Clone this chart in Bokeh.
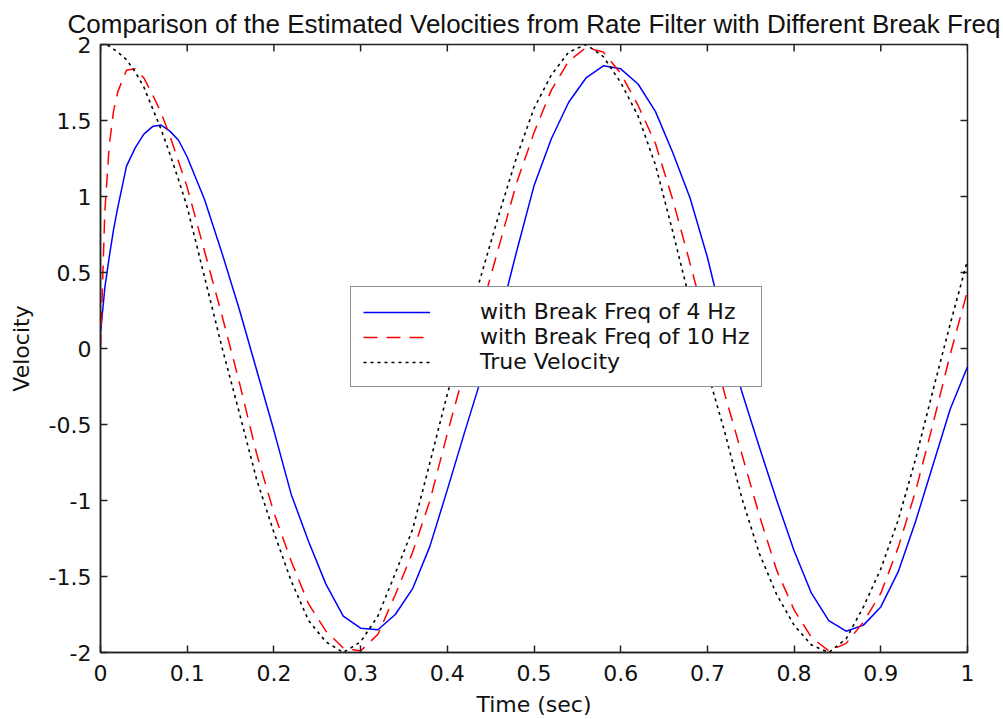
import math
from bokeh.plotting import figure
from bokeh.models import FixedTicker, Legend, LegendItem, Range1d
from bokeh.embed import file_html
from bokeh.resources import INLINE

# ---- data ----
time_s = [0.0, 0.005, 0.01, 0.015, 0.02, 0.03, 0.04, 0.05, 0.06, 0.07, 0.08, 0.09,
          0.10, 0.12, 0.14, 0.16, 0.18, 0.20, 0.22, 0.24, 0.26, 0.28, 0.30, 0.32,
          0.34, 0.36, 0.38, 0.40, 0.42, 0.44, 0.46, 0.48, 0.50, 0.52, 0.54, 0.56,
          0.58, 0.60, 0.62, 0.64, 0.66, 0.68, 0.70, 0.72, 0.74, 0.76, 0.78, 0.80,
          0.82, 0.84, 0.86, 0.88, 0.90, 0.92, 0.94, 0.96, 0.98, 1.00]

vel_4hz = [0.10, 0.40, 0.60, 0.78, 0.93, 1.20, 1.32, 1.41, 1.46, 1.47, 1.43, 1.37,
           1.26, 0.98, 0.63, 0.26, -0.14, -0.54, -0.96, -1.27, -1.55, -1.76, -1.84, -1.85,
           -1.75, -1.58, -1.30, -0.93, -0.55, -0.18, 0.19, 0.64, 1.07, 1.38, 1.62, 1.78,
           1.86, 1.84, 1.74, 1.56, 1.29, 0.99, 0.60, 0.13, -0.29, -0.65, -1.00, -1.33,
           -1.61, -1.79, -1.86, -1.82, -1.70, -1.47, -1.14, -0.77, -0.40, -0.12]

vel_10hz = [0.0, 0.90, 1.33, 1.56, 1.69, 1.83, 1.84, 1.78, 1.67, 1.55, 1.40, 1.23,
            1.06, 0.64, 0.22, -0.22, -0.69, -1.08, -1.40, -1.68, -1.86, -1.97, -1.99, -1.88,
            -1.62, -1.34, -1.00, -0.56, -0.14, 0.27, 0.68, 1.09, 1.42, 1.70, 1.89, 1.98,
            1.95, 1.81, 1.60, 1.35, 0.98, 0.56, 0.13, -0.30, -0.70, -1.10, -1.46, -1.72,
            -1.90, -1.99, -1.94, -1.80, -1.61, -1.31, -0.94, -0.50, -0.04, 0.38]

vel_true = [2.00, 2.00, 1.99, 1.97, 1.95, 1.90, 1.82, 1.72, 1.58, 1.44, 1.28, 1.11,
            0.93, 0.47, 0.01, -0.42, -0.86, -1.21, -1.53, -1.79, -1.93, -2.00, -1.93, -1.76,
            -1.48, -1.19, -0.75, -0.30, 0.10, 0.50, 0.89, 1.26, 1.58, 1.80, 1.95, 2.00,
            1.92, 1.75, 1.53, 1.21, 0.77, 0.31, -0.15, -0.55, -0.99, -1.35, -1.62, -1.82,
            -1.95, -2.00, -1.91, -1.70, -1.45, -1.13, -0.73, -0.28, 0.16, 0.58]

x_ticks = [0, 0.1, 0.2, 0.3, 0.4, 0.5, 0.6, 0.7, 0.8, 0.9, 1.0]
x_tick_labels = ["0", "0.1", "0.2", "0.3", "0.4", "0.5", "0.6", "0.7", "0.8", "0.9", "1"]
y_ticks = [-2, -1.5, -1, -0.5, 0, 0.5, 1, 1.5, 2]
y_tick_labels = ["-2", "-1.5", "-1", "-0.5", "0", "0.5", "1", "1.5", "2"]

series_labels = ["with Break Freq of 4 Hz", "with Break Freq of 10 Hz", "True Velocity"]
title_text = "Comparison of the Estimated Velocities from Rate Filter with Different Break Freq"

X_MIN, X_MAX = 0, 1
Y_MIN, Y_MAX = -2, 2

FONT = "DejaVu Sans"
AX = "#222222"

p = figure(width=1003, height=719, output_backend="svg", toolbar_location=None,
           x_range=Range1d(X_MIN, X_MAX), y_range=Range1d(Y_MIN, Y_MAX),
           min_border_left=100, min_border_right=36, min_border_top=43, min_border_bottom=66,
           x_axis_label="Time (sec)", y_axis_label="Velocity")

p.title.text = title_text
p.title.align = "center"
p.title.text_font = "Liberation Sans"
p.title.text_font_size = "26px"
p.title.text_font_style = "normal"
p.title.text_color = "#111111"
p.title.standoff = 12

p.grid.visible = False
p.outline_line_color = AX
p.outline_line_width = 1.5
p.background_fill_color = "white"
p.border_fill_color = "white"


def style_axis(ax, ticks, labels):
    ax.ticker = FixedTicker(ticks=ticks)
    ax.major_label_overrides = {t: l for t, l in zip(ticks, labels)}
    ax.minor_tick_line_color = None
    ax.major_tick_in = 7
    ax.major_tick_out = 0
    ax.major_tick_line_color = AX
    ax.major_tick_line_width = 1.5
    ax.axis_line_color = AX
    ax.axis_line_width = 1.5
    ax.major_label_text_font = FONT
    ax.major_label_text_font_size = "22px"
    ax.major_label_text_color = "#111111"
    ax.major_label_standoff = 12
    ax.axis_label_text_font = FONT
    ax.axis_label_text_font_size = "22px"
    ax.axis_label_text_font_style = "normal"
    ax.axis_label_text_color = "#111111"


style_axis(p.xaxis[0], x_ticks, x_tick_labels)
style_axis(p.yaxis[0], y_ticks, y_tick_labels)
p.yaxis[0].major_label_standoff = 9
p.xaxis[0].axis_label_standoff = 8
p.yaxis[0].axis_label_standoff = 12

# inward tick marks on the top and right edges of the box (clipped to the frame)
p.scatter(x_ticks, [Y_MAX] * len(x_ticks), marker="dash", size=14, angle=math.pi / 2,
          line_color=AX, line_width=1.5)
p.scatter([X_MAX] * len(y_ticks), y_ticks, marker="dash", size=14,
          line_color=AX, line_width=1.5)

r_blue = p.line(time_s, vel_4hz, line_color="#0000FF", line_width=1.5)
r_red = p.line(time_s, vel_10hz, line_color="#FF0000", line_width=1.5, line_dash="14 9")
r_black = p.line(time_s, vel_true, line_color="#000000", line_width=1.6, line_dash="3 4")

legend = Legend(items=[LegendItem(label=series_labels[0], renderers=[r_blue]),
                       LegendItem(label=series_labels[1], renderers=[r_red]),
                       LegendItem(label=series_labels[2], renderers=[r_black])],
                location=(250, 265))
legend.label_text_font = FONT
legend.label_text_font_size = "22px"
legend.label_text_color = "#111111"
legend.glyph_width = 67
legend.glyph_height = 24
legend.label_height = 24
legend.label_standoff = 50
legend.spacing = 0
legend.padding = 12
legend.margin = 0
legend.border_line_color = AX
legend.border_line_width = 1.5
legend.background_fill_color = "white"
legend.background_fill_alpha = 1.0
p.add_layout(legend, "center")

open("out.html", "w").write(file_html(p, INLINE))
